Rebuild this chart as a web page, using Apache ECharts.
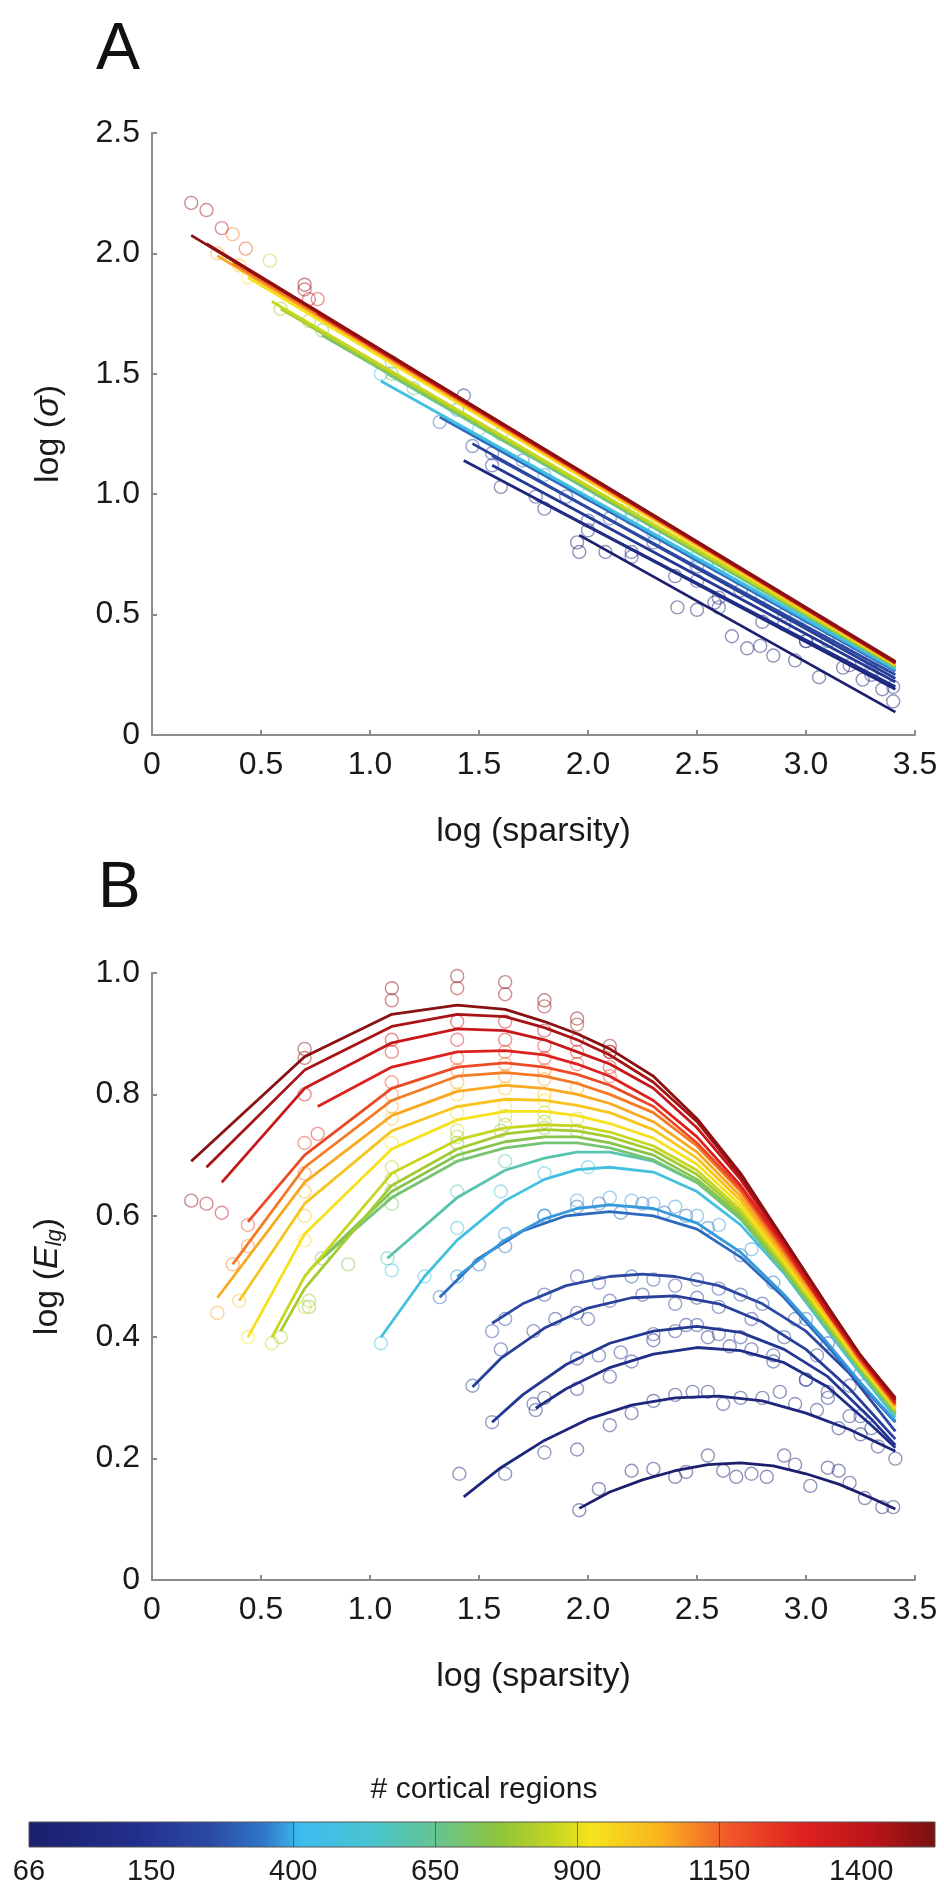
<!DOCTYPE html>
<html><head><meta charset="utf-8">
<script src="https://cdn.jsdelivr.net/npm/echarts@6/dist/echarts.min.js"></script>
<style>html,body{margin:0;padding:0;background:#fff}#c{width:944px;height:1899px}</style>
</head><body><div id="c"></div>
<script>
// ---------------- DATA ----------------
// number of cortical regions for each parcellation (one series each)
const regionCounts = [66,100,130,160,200,250,320,380,480,600,690,740,800,860,930,1000,1060,1120,1200,1300,1380,1450,1500];

// Panel A: fitted lines log(sigma) vs log(sparsity) (start and end of each fit)
const sigmaFit = [
 [[1.96,0.83],[3.41,0.095]],
 [[1.43,1.14],[3.41,0.19]],
 [[1.76,0.98],[3.41,0.2]],
 [[1.56,1.12],[3.41,0.22]],
 [[1.47,1.21],[3.41,0.235]],
 [[1.56,1.16],[3.41,0.25]],
 [[1.32,1.32],[3.41,0.265]],
 [[1.4,1.29],[3.41,0.27]],
 [[1.05,1.47],[3.41,0.275]],
 [[1.08,1.5],[3.41,0.28]],
 [[0.78,1.66],[3.41,0.283]],
 [[0.72,1.7],[3.41,0.285]],
 [[0.59,1.77],[3.41,0.288]],
 [[0.55,1.8],[3.41,0.29]],
 [[0.44,1.9],[3.41,0.293]],
 [[0.4,1.94],[3.41,0.295]],
 [[0.3,1.99],[3.41,0.296]],
 [[0.37,1.96],[3.41,0.298]],
 [[0.44,1.93],[3.41,0.3]],
 [[0.76,1.75],[3.41,0.3]],
 [[0.32,2.0],[3.41,0.3]],
 [[0.25,2.04],[3.41,0.3]],
 [[0.18,2.075],[3.41,0.305]]
];

// Panel A: observed points (circles)
const sigmaObs = [
 [[1.95,0.8],[1.96,0.76],[2.08,0.76],[2.41,0.53],[2.5,0.52],[2.58,0.55],[2.66,0.41],[2.73,0.36],[2.79,0.37],[2.85,0.33],[2.95,0.31],[3.06,0.24],[3.17,0.28],[3.26,0.23],[3.35,0.19],[3.4,0.14]],
 [[1.43,1.41],[1.6,1.03],[1.8,0.94],[2.0,0.85],[2.2,0.76],[2.4,0.66],[2.6,0.57],[2.8,0.47],[3.0,0.39],[3.2,0.29],[3.4,0.2]],
 [[1.76,0.99],[2.2,0.74],[2.6,0.53],[3.0,0.39],[3.3,0.25]],
 [[1.56,1.12],[2.0,0.89],[2.5,0.64],[2.9,0.46],[3.3,0.27]],
 [[1.47,1.2],[1.9,0.99],[2.3,0.8],[2.7,0.6],[3.1,0.39]],
 [[1.56,1.17],[2.1,0.9],[2.5,0.7],[2.9,0.5],[3.3,0.31]],
 [[1.32,1.3],[1.7,1.14],[2.2,0.9],[2.6,0.7],[3.0,0.5]],
 [[1.4,1.35],[1.8,1.08],[2.3,0.84],[2.8,0.58],[3.2,0.38]],
 [[1.05,1.5],[1.5,1.27],[2.0,1.0],[2.5,0.74],[3.0,0.49]],
 [[1.1,1.55],[1.6,1.25],[2.2,0.92],[2.8,0.6]],
 [[0.78,1.68],[1.2,1.44]],
 [[0.72,1.72],[1.1,1.5]],
 [[0.59,1.77]],
 [[0.54,1.97]],
 [[0.44,1.9]],
 [[0.4,1.95]],
 [[0.3,2.0]],
 [[0.37,2.08]],
 [[0.43,2.02]],
 [[0.76,1.81]],
 [[0.32,2.105],[0.72,1.81]],
 [[0.25,2.18],[0.7,1.85]],
 [[0.18,2.21],[0.7,1.87]]
];

// Panel B: fitted curves log(E_lg) vs log(sparsity)
const effFit = [
 [[1.96,0.118],[2.1,0.145],[2.25,0.165],[2.4,0.18],[2.55,0.19],[2.7,0.193],[2.85,0.188],[3.0,0.175],[3.15,0.158],[3.3,0.135],[3.41,0.117]],
 [[1.43,0.137],[1.6,0.185],[1.8,0.23],[2.0,0.265],[2.2,0.288],[2.4,0.3],[2.6,0.303],[2.8,0.295],[3.0,0.275],[3.2,0.248],[3.41,0.212]],
 [[1.76,0.283],[1.9,0.315],[2.1,0.35],[2.3,0.372],[2.5,0.383],[2.7,0.378],[2.9,0.358],[3.1,0.318],[3.3,0.255],[3.41,0.218]],
 [[1.56,0.26],[1.7,0.305],[1.9,0.355],[2.1,0.39],[2.3,0.41],[2.5,0.418],[2.7,0.408],[2.9,0.38],[3.1,0.335],[3.3,0.265],[3.41,0.222]],
 [[1.47,0.318],[1.6,0.365],[1.8,0.415],[2.0,0.448],[2.2,0.465],[2.4,0.468],[2.6,0.455],[2.8,0.425],[3.0,0.38],[3.2,0.315],[3.41,0.232]],
 [[1.56,0.423],[1.7,0.455],[1.9,0.485],[2.1,0.5],[2.25,0.504],[2.4,0.5],[2.6,0.485],[2.8,0.455],[3.0,0.41],[3.2,0.34],[3.41,0.245]],
 [[1.32,0.466],[1.5,0.53],[1.7,0.575],[1.9,0.6],[2.1,0.607],[2.3,0.6],[2.5,0.578],[2.7,0.532],[2.9,0.465],[3.1,0.385],[3.25,0.322],[3.41,0.26]],
 [[1.4,0.5],[1.62,0.56],[1.8,0.595],[1.95,0.612],[2.1,0.618],[2.3,0.612],[2.5,0.588],[2.7,0.54],[2.9,0.47],[3.1,0.39],[3.25,0.325],[3.41,0.262]],
 [[1.05,0.4],[1.25,0.5],[1.4,0.56],[1.62,0.625],[1.8,0.66],[1.95,0.676],[2.1,0.68],[2.3,0.672],[2.5,0.64],[2.7,0.585],[2.9,0.505],[3.1,0.41],[3.25,0.34],[3.41,0.268]],
 [[1.08,0.53],[1.4,0.63],[1.62,0.675],[1.8,0.695],[1.95,0.705],[2.1,0.705],[2.3,0.69],[2.5,0.655],[2.7,0.595],[2.9,0.51],[3.1,0.415],[3.25,0.344],[3.41,0.272]],
 [[0.78,0.53],[1.1,0.63],[1.4,0.69],[1.62,0.712],[1.8,0.72],[1.95,0.72],[2.1,0.712],[2.3,0.692],[2.5,0.655],[2.7,0.595],[2.9,0.508],[3.1,0.415],[3.25,0.345],[3.41,0.274]],
 [[0.72,0.51],[1.1,0.64],[1.4,0.7],[1.62,0.722],[1.8,0.73],[1.95,0.73],[2.1,0.72],[2.3,0.7],[2.5,0.66],[2.7,0.6],[2.9,0.512],[3.1,0.418],[3.25,0.348],[3.41,0.276]],
 [[0.59,0.41],[0.7,0.48],[1.1,0.65],[1.4,0.71],[1.62,0.735],[1.8,0.742],[1.95,0.74],[2.1,0.73],[2.3,0.708],[2.5,0.668],[2.7,0.605],[2.9,0.517],[3.1,0.42],[3.25,0.35],[3.41,0.278]],
 [[0.55,0.4],[0.7,0.5],[1.1,0.67],[1.4,0.725],[1.62,0.745],[1.8,0.75],[1.95,0.748],[2.1,0.738],[2.3,0.715],[2.5,0.675],[2.7,0.61],[2.9,0.52],[3.1,0.425],[3.25,0.352],[3.41,0.28]],
 [[0.44,0.4],[0.7,0.57],[1.1,0.71],[1.4,0.758],[1.62,0.772],[1.8,0.772],[1.95,0.765],[2.1,0.752],[2.3,0.728],[2.5,0.685],[2.7,0.617],[2.9,0.525],[3.1,0.428],[3.25,0.355],[3.41,0.283]],
 [[0.4,0.46],[0.7,0.62],[1.1,0.74],[1.4,0.78],[1.62,0.792],[1.8,0.79],[1.95,0.782],[2.1,0.77],[2.3,0.742],[2.5,0.695],[2.7,0.625],[2.9,0.53],[3.1,0.432],[3.25,0.358],[3.41,0.285]],
 [[0.3,0.465],[0.7,0.655],[1.1,0.765],[1.4,0.805],[1.62,0.815],[1.8,0.81],[1.95,0.8],[2.1,0.785],[2.3,0.755],[2.5,0.705],[2.7,0.632],[2.9,0.535],[3.1,0.435],[3.25,0.36],[3.41,0.287]],
 [[0.37,0.52],[0.7,0.68],[1.1,0.79],[1.4,0.83],[1.62,0.836],[1.8,0.83],[1.95,0.818],[2.1,0.8],[2.3,0.77],[2.5,0.715],[2.7,0.64],[2.9,0.54],[3.1,0.44],[3.25,0.36],[3.41,0.288]],
 [[0.44,0.59],[0.7,0.7],[1.1,0.81],[1.4,0.845],[1.62,0.852],[1.8,0.845],[1.95,0.833],[2.1,0.815],[2.3,0.78],[2.5,0.72],[2.7,0.645],[2.9,0.545],[3.1,0.44],[3.25,0.365],[3.41,0.29]],
 [[0.76,0.78],[1.1,0.845],[1.4,0.87],[1.62,0.872],[1.8,0.865],[1.95,0.85],[2.1,0.83],[2.3,0.79],[2.5,0.73],[2.7,0.65],[2.9,0.55],[3.1,0.44],[3.25,0.365],[3.41,0.292]],
 [[0.32,0.655],[0.7,0.81],[1.1,0.885],[1.4,0.908],[1.62,0.905],[1.8,0.89],[1.95,0.87],[2.1,0.85],[2.3,0.81],[2.5,0.745],[2.7,0.66],[2.9,0.555],[3.1,0.445],[3.25,0.37],[3.41,0.295]],
 [[0.25,0.68],[0.7,0.84],[1.1,0.912],[1.4,0.932],[1.62,0.928],[1.8,0.91],[1.95,0.89],[2.1,0.865],[2.3,0.82],[2.5,0.755],[2.7,0.665],[2.9,0.56],[3.1,0.45],[3.25,0.37],[3.41,0.297]],
 [[0.18,0.69],[0.7,0.862],[1.1,0.932],[1.4,0.947],[1.62,0.94],[1.8,0.92],[1.95,0.9],[2.1,0.875],[2.3,0.83],[2.5,0.76],[2.7,0.67],[2.9,0.56],[3.1,0.45],[3.25,0.37],[3.41,0.3]]
];

// Panel B: observed points (circles)
const effObs = [
 [[1.96,0.115],[2.05,0.15],[2.2,0.18],[2.3,0.183],[2.4,0.17],[2.45,0.178],[2.55,0.205],[2.62,0.18],[2.68,0.17],[2.75,0.175],[2.82,0.17],[2.9,0.205],[2.95,0.19],[3.02,0.155],[3.1,0.185],[3.15,0.18],[3.2,0.16],[3.27,0.135],[3.35,0.12],[3.4,0.12]],
 [[1.41,0.175],[1.62,0.175],[1.8,0.21],[1.95,0.215],[2.1,0.255],[2.2,0.275],[2.3,0.295],[2.4,0.305],[2.48,0.31],[2.55,0.31],[2.62,0.29],[2.7,0.3],[2.8,0.3],[2.88,0.31],[2.95,0.29],[3.05,0.28],[3.15,0.25],[3.25,0.24],[3.33,0.22],[3.41,0.2]],
 [[1.76,0.28],[1.8,0.3],[1.95,0.315],[2.1,0.335],[2.2,0.36],[2.3,0.395],[2.45,0.42],[2.55,0.4],[2.65,0.385],[2.75,0.38],[2.85,0.36],[3.0,0.33],[3.1,0.3],[3.2,0.27],[3.3,0.25]],
 [[1.56,0.26],[1.75,0.29],[1.95,0.365],[2.05,0.37],[2.15,0.375],[2.3,0.405],[2.4,0.41],[2.5,0.42],[2.6,0.405],[2.7,0.4],[2.85,0.37],[3.0,0.33],[3.1,0.31],[3.25,0.27]],
 [[1.47,0.32],[1.6,0.38],[1.75,0.41],[1.85,0.43],[1.95,0.44],[2.0,0.43],[2.1,0.46],[2.25,0.47],[2.4,0.455],[2.5,0.465],[2.6,0.45],[2.75,0.43],[2.9,0.4],[3.05,0.37],[3.2,0.32]],
 [[1.56,0.41],[1.62,0.43],[1.8,0.47],[1.95,0.5],[2.05,0.49],[2.2,0.5],[2.3,0.495],[2.4,0.485],[2.5,0.495],[2.6,0.48],[2.7,0.47],[2.8,0.455],[2.95,0.43],[3.1,0.39],[3.25,0.34]],
 [[1.32,0.466],[1.5,0.52],[1.62,0.55],[1.8,0.6],[1.95,0.615],[2.05,0.62],[2.15,0.605],[2.25,0.62],[2.35,0.605],[2.45,0.6],[2.55,0.58],[2.7,0.535],[2.85,0.49],[3.0,0.43]],
 [[1.4,0.5],[1.62,0.57],[1.8,0.6],[1.95,0.625],[2.1,0.63],[2.2,0.625],[2.3,0.62],[2.4,0.615],[2.5,0.6],[2.6,0.585],[2.75,0.545]],
 [[1.05,0.39],[1.1,0.51],[1.25,0.5],[1.4,0.58],[1.6,0.64],[1.8,0.67],[2.0,0.68]],
 [[1.08,0.53],[1.4,0.64],[1.62,0.69]],
 [[0.78,0.53],[1.1,0.62],[1.4,0.7]],
 [[0.72,0.45],[0.9,0.52],[1.1,0.64],[1.4,0.72],[1.6,0.74],[1.8,0.745],[1.95,0.74]],
 [[0.59,0.4],[0.72,0.46],[1.1,0.66],[1.4,0.73],[1.62,0.75],[1.8,0.755]],
 [[0.55,0.39],[0.7,0.45],[1.1,0.68],[1.4,0.74],[1.62,0.765],[1.8,0.77],[1.95,0.76]],
 [[0.44,0.4],[0.7,0.56],[1.1,0.72],[1.4,0.77],[1.62,0.78],[1.8,0.79]],
 [[0.4,0.46],[0.7,0.6],[1.1,0.76],[1.4,0.8],[1.62,0.81],[1.8,0.8]],
 [[0.3,0.44],[0.7,0.64],[1.1,0.78],[1.4,0.82],[1.62,0.83],[1.8,0.825],[1.95,0.81]],
 [[0.37,0.52],[0.44,0.55],[0.7,0.67],[1.1,0.8],[1.4,0.84],[1.62,0.85],[1.8,0.84]],
 [[0.44,0.585],[0.7,0.72],[1.1,0.82],[1.4,0.86],[1.62,0.87],[1.8,0.86],[1.95,0.85],[2.1,0.83]],
 [[0.76,0.735],[1.1,0.87],[1.4,0.89],[1.62,0.89],[1.8,0.88],[1.95,0.87],[2.1,0.845]],
 [[0.32,0.605],[0.7,0.8],[1.1,0.89],[1.4,0.92],[1.62,0.92],[1.8,0.905],[1.95,0.89],[2.1,0.87]],
 [[0.25,0.62],[0.7,0.86],[1.1,0.955],[1.4,0.975],[1.62,0.965],[1.8,0.945],[1.95,0.915],[2.1,0.87]],
 [[0.18,0.625],[0.7,0.875],[1.1,0.975],[1.4,0.995],[1.62,0.985],[1.8,0.955],[1.95,0.925],[2.1,0.88]]
];

// colour bar
const colorbarTicks = [66,150,400,650,900,1150,1400];
const colorbarInnerTicks = [400,650,900,1150];
const colorbarScaleCounts = [66,150,1530];   // knots of the (piecewise-linear) colour scale
const colorbarScaleFrac = [0,0.135,1];
const cmapPos = [0,0.12,0.2,0.26,0.3,0.38,0.45,0.52,0.58,0.62,0.7,0.77,0.85,0.93,1];
const cmapColors = ['#1b1f6e','#22308c','#2b4aa3','#2f78c8','#3dbcef','#49c4cf','#66c48f','#8fc43b','#c6d621','#f6e41c','#fab01f','#f15a29','#e0221f','#bb1419','#78100f'];

// ---------------- HELPERS ----------------
function countToFrac(c){
  for(let i=1;i<colorbarScaleCounts.length;i++){
    if(c<=colorbarScaleCounts[i]){
      const a=colorbarScaleCounts[i-1], b=colorbarScaleCounts[i];
      return colorbarScaleFrac[i-1]+(c-a)/(b-a)*(colorbarScaleFrac[i]-colorbarScaleFrac[i-1]);
    }
  }
  return 1;
}
function hex(h){return [parseInt(h.slice(1,3),16),parseInt(h.slice(3,5),16),parseInt(h.slice(5,7),16)];}
function cmap(t,alpha){
  let i=1; while(i<cmapPos.length-1 && t>cmapPos[i]) i++;
  const f=Math.max(0,Math.min(1,(t-cmapPos[i-1])/(cmapPos[i]-cmapPos[i-1])));
  const a=hex(cmapColors[i-1]), b=hex(cmapColors[i]);
  const c=a.map((v,k)=>Math.round(v+(b[k]-v)*f));
  return alpha===undefined?`rgb(${c[0]},${c[1]},${c[2]})`:`rgba(${c[0]},${c[1]},${c[2]},${alpha})`;
}

const FONT = "'Liberation Sans', Arial, sans-serif";
const tickFmt = v => v===0 ? '0' : v.toFixed(1);
const axisLineStyle = {color:'#8c8c8c', width:2};

function xAx(grid){
  return {gridIndex:grid, type:'value', min:0, max:3.5, interval:0.5,
    axisLine:{lineStyle:axisLineStyle}, axisTick:{inside:true,length:5,lineStyle:axisLineStyle},
    splitLine:{show:false},
    axisLabel:{fontSize:32, color:'#1a1a1a', fontFamily:FONT, margin:14, formatter:tickFmt},
    name:'log (sparsity)', nameLocation:'middle', nameGap:80,
    nameTextStyle:{fontSize:34, color:'#1a1a1a', fontFamily:FONT}};
}
function yAx(grid,max,interval,name){
  return {gridIndex:grid, type:'value', min:0, max:max, interval:interval,
    axisLine:{show:true,lineStyle:axisLineStyle}, axisTick:{show:true,inside:true,length:5,lineStyle:axisLineStyle},
    splitLine:{show:false},
    axisLabel:{fontSize:32, color:'#1a1a1a', fontFamily:FONT, margin:12, formatter:tickFmt},
    name:name, nameLocation:'middle', nameGap:86, nameRotate:90,
    nameTextStyle:{fontSize:34, color:'#1a1a1a', fontFamily:FONT,
      rich:{i:{fontSize:34,fontStyle:'italic',fontFamily:FONT,color:'#1a1a1a'},
            s:{fontSize:22,fontStyle:'italic',fontFamily:FONT,color:'#1a1a1a',verticalAlign:'bottom',padding:[14,0,0,0]}}}};
}

const series=[];
// circles first
regionCounts.forEach((c,i)=>{
  const t=countToFrac(c);
  const circ={type:'scatter', symbol:'circle', symbolSize:13, z:2, silent:true,
    itemStyle:{color:'rgba(0,0,0,0)', borderColor:cmap(t,0.6), borderWidth:1.4}};
  series.push(Object.assign({xAxisIndex:0,yAxisIndex:0,data:sigmaObs[i]},circ));
  series.push(Object.assign({xAxisIndex:1,yAxisIndex:1,data:effObs[i]},circ));
});
regionCounts.forEach((c,i)=>{
  const t=countToFrac(c);
  const ln={type:'line', showSymbol:false, z:3, silent:true, lineStyle:{color:cmap(t), width:2.8}};
  series.push(Object.assign({xAxisIndex:0,yAxisIndex:0,data:sigmaFit[i]},ln));
  series.push(Object.assign({xAxisIndex:1,yAxisIndex:1,data:effFit[i]},ln));
});

const gradStops = cmapPos.map((p,k)=>({offset:p,color:cmapColors[k]}));

const option = {
  animation:false,
  backgroundColor:'#fff',
  grid:[
    {left:152, right:29, top:133, height:602},
    {left:152, right:29, top:973, height:607},
    {left:29, right:9, top:1822, height:25}
  ],
  xAxis:[ xAx(0), xAx(1),
    {gridIndex:2, type:'value', min:0, max:1, z:10,
     axisLine:{show:false},
     axisTick:{show:true, inside:true, length:25, customValues:colorbarInnerTicks.map(countToFrac), lineStyle:{color:'rgba(40,40,40,0.55)',width:1}},
     splitLine:{show:false},
     axisLabel:{fontSize:29, color:'#1a1a1a', fontFamily:FONT, margin:10, showMinLabel:true, showMaxLabel:true, hideOverlap:false,
       customValues:colorbarTicks.map(countToFrac),
       formatter:v=>{let best=0;colorbarTicks.forEach((c,k)=>{if(Math.abs(countToFrac(c)-v)<Math.abs(countToFrac(colorbarTicks[best])-v))best=k;});return String(colorbarTicks[best]);}}}
  ],
  yAxis:[ yAx(0,2.5,0.5,'log ({i|σ})'), yAx(1,1.0,0.2,'log ({i|E}{s|lg})'),
    {gridIndex:2, type:'value', min:0, max:1, show:false}
  ],
  graphic:[
    {type:'text', left:96, top:18, style:{text:'A', font:`66px ${FONT}`, fill:'#111'}},
    {type:'text', left:98, top:857, style:{text:'B', font:`64px ${FONT}`, fill:'#111'}},
    {type:'text', x:484, y:1790, style:{text:'# cortical regions', font:`30px ${FONT}`, fill:'#1a1a1a', textAlign:'center', textVerticalAlign:'middle'}},
    {type:'rect', z:0, shape:{x:29,y:1822,width:906,height:25},
     style:{fill:{type:'linear',x:0,y:0,x2:1,y2:0,colorStops:gradStops}, stroke:'#555', lineWidth:1}}
  ],
  series:series
};
const chart = echarts.init(document.getElementById('c'), null, {renderer:'canvas'});
chart.setOption(option);
</script></body></html>
